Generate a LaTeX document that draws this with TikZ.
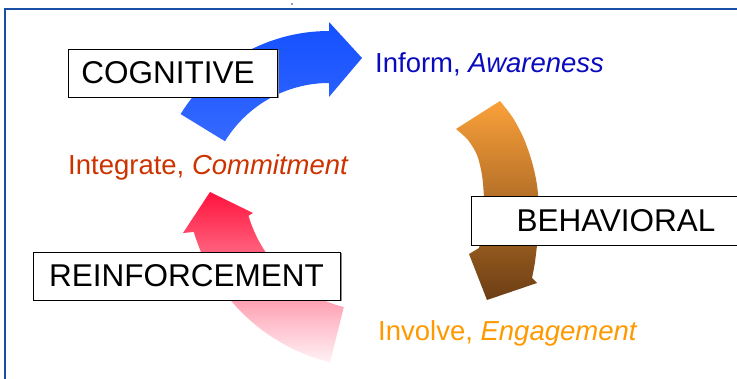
\documentclass[tikz,border=0pt]{standalone}
\usepackage{fontspec}
\setmainfont{Liberation Sans}
\usetikzlibrary{shadows,calc}
\definecolor{framecol}{RGB}{25,80,165}
\definecolor{bluetop}{RGB}{20,80,255}
\definecolor{bluebot}{RGB}{70,118,255}
\definecolor{orgtop}{RGB}{250,160,58}
\definecolor{orgbot}{RGB}{108,62,20}
\definecolor{redtop}{RGB}{255,0,45}
\definecolor{redbot}{RGB}{255,242,246}
\definecolor{informcol}{RGB}{10,10,190}
\definecolor{integcol}{RGB}{204,51,0}
\definecolor{involvecol}{RGB}{255,153,0}
\tikzset{
  labelbox/.style={draw=black, line width=0.8pt, fill=white, inner sep=0pt,
    font=\fontsize{31.5}{36}\selectfont,
    drop shadow={shadow xshift=1.5pt, shadow yshift=-1.5pt, fill=black!45, opacity=1}},
  stagelabel/.style={anchor=base west, inner sep=0pt, font=\fontsize{27.5}{32}\selectfont}
}
\begin{document}
\begin{tikzpicture}[x=1pt,y=1pt]
\useasboundingbox (0,0) rectangle (737,-379);
\clip (0,0) rectangle (737,-379);
% frame
\draw[framecol, line width=2.2pt] (5,-380) -- (5,-9) -- (740,-9);
\fill[framecol!80!black] (292,-4) circle (0.8);
% blue arrow
\shade[top color=bluetop, bottom color=bluebot]
  (329,-205) ++(148.5:174) arc[start angle=148.5, end angle=90, radius=174]
  -- (329,-22) -- (362,-58) -- (329,-97) -- (329,-83)
  arc[start angle=90, end angle=148.5, radius=122] -- cycle;
% orange arrow
\shade[top color=orgtop, bottom color=orgbot]
  plot[smooth] coordinates {(500,-101) (513,-118) (524,-139) (532,-162) (537,-185) (539,-210) (538,-235) (535,-262) (532,-278)}
  -- (537,-283) -- (487,-300) -- (469,-254)
  -- plot[smooth] coordinates {(479,-248) (483,-225) (484,-200) (482,-175) (477,-155) (468,-140) (456,-129)}
  -- cycle;
% red arrow
\shade[top color=redtop, bottom color=redbot]
  (376,-178) ++(-104:190) arc[start angle=-104, end angle=-163.5, radius=190]
  -- (183,-233) -- (210,-192) -- (253,-213)
  -- ($(376,-178)+(-163.5:133)$) arc[start angle=-163.5, end angle=-104, radius=133] -- cycle;
% boxes
\node[labelbox, anchor=west, minimum height=48pt, text width=183pt, align=left, inner xsep=13pt] (cog) at (68,-73) {COGNITIVE};
\node[labelbox, minimum width=307pt, minimum height=48pt] (reinf) at (186.5,-276) {REINFORCEMENT};
\node[labelbox, minimum width=290pt, minimum height=49pt] (behav) at (616,-220.5) {BEHAVIORAL};
% stage labels
\node[stagelabel, text=informcol] (inform) at (375,-73) {Inform, \textit{Awareness}};
\node[stagelabel, text=integcol] (integ) at (68,-175) {Integrate, \textit{Commitment}};
\node[stagelabel, text=involvecol] (involve) at (378,-341) {Involve, \textit{Engagement}};
\end{tikzpicture}
\end{document}
